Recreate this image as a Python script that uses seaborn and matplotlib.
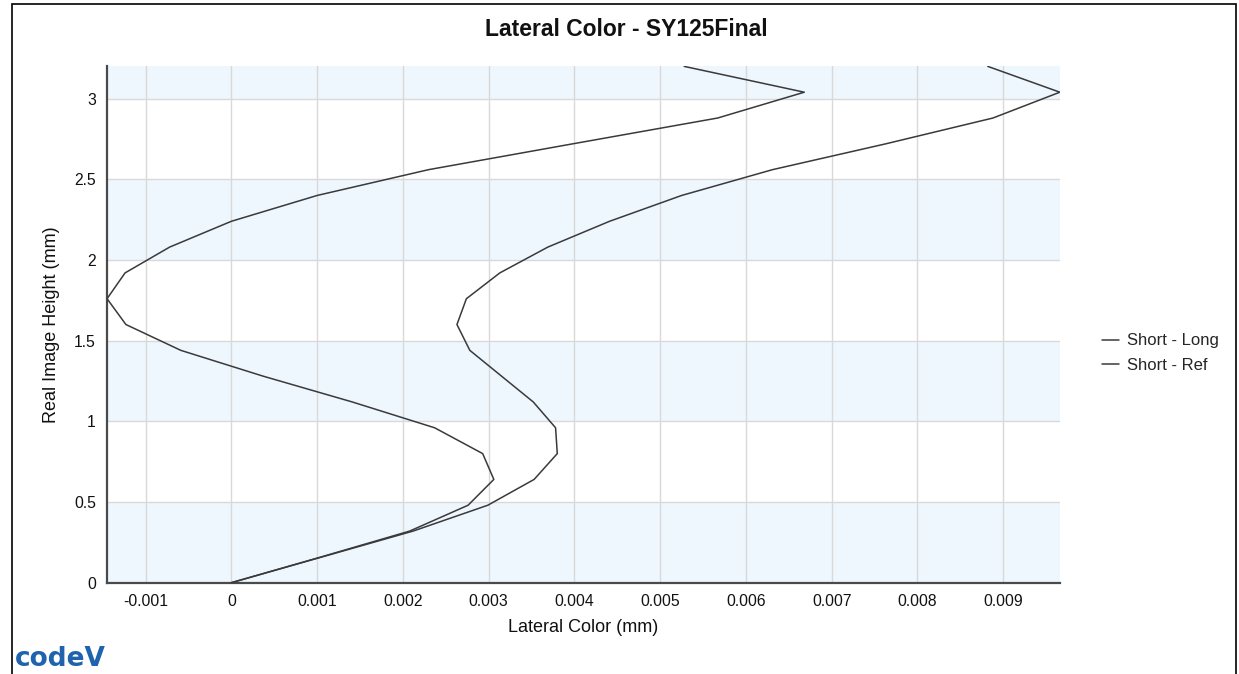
import matplotlib
matplotlib.use("Agg")
import matplotlib.pyplot as plt
from matplotlib.lines import Line2D
from matplotlib.patches import Rectangle
import pandas as pd
import seaborn as sns

# field heights (mm), sampled every 0.16 mm
heights = [0.0, 0.16, 0.32, 0.48, 0.64, 0.80, 0.96, 1.12, 1.28, 1.44, 1.60,
           1.76, 1.92, 2.08, 2.24, 2.40, 2.56, 2.72, 2.88, 3.04, 3.20]

# lateral color (mm)
short_long = [0.0, 0.00105, 0.00208, 0.00276, 0.00306, 0.00293, 0.00237, 0.00141,
              0.00037, -0.00059, -0.00123, -0.00145, -0.00124, -0.00072, 0.0,
              0.00100, 0.00230, 0.00398, 0.00567, 0.00668, 0.00528]
short_ref = [0.0, 0.00106, 0.00212, 0.00299, 0.00353, 0.00380, 0.00378, 0.00352,
             0.00315, 0.00278, 0.00263, 0.00274, 0.00313, 0.00369, 0.00441,
             0.00525, 0.00631, 0.00763, 0.00888, 0.00966, 0.00882]

series_names = ["Short - Long", "Short - Ref"]
x_ticks = [-0.001, 0, 0.001, 0.002, 0.003, 0.004, 0.005, 0.006, 0.007, 0.008, 0.009]
x_tick_labels = ["-0.001", "0", "0.001", "0.002", "0.003", "0.004", "0.005",
                 "0.006", "0.007", "0.008", "0.009"]
y_ticks = [0, 0.5, 1, 1.5, 2, 2.5, 3]
y_tick_labels = ["0", "0.5", "1", "1.5", "2", "2.5", "3"]

df = pd.concat([
    pd.DataFrame({"height": heights, "lateral": short_long, "series": series_names[0]}),
    pd.DataFrame({"height": heights, "lateral": short_ref, "series": series_names[1]}),
])

sns.set_theme(style="white")
plt.rcParams["font.family"] = ["Liberation Sans", "DejaVu Sans"]

line_color = "#3a3a3a"
band_color = "#eef6fe"
grid_color = "#d9d9d9"
axis_color = "#4a4a4a"

fig = plt.figure(figsize=(12.39, 6.74), dpi=100)
ax = fig.add_axes([0.0864, 0.1355, 0.769, 0.766])

# alternating bands between y ticks
band_edges = y_ticks + [max(heights)]
for i in range(0, len(band_edges) - 1, 2):
    ax.axhspan(band_edges[i], band_edges[i + 1], color=band_color, lw=0, zorder=0)

sns.lineplot(data=df, x="lateral", y="height", hue="series", sort=False,
             estimator=None, orient="y", palette=[line_color, line_color],
             linewidth=1.1, legend=False, ax=ax, zorder=3)

ax.set_xlim(min(short_long + short_ref), max(short_long + short_ref))
ax.set_ylim(0, max(heights))
ax.set_xticks(x_ticks)
ax.set_xticklabels(x_tick_labels)
ax.set_yticks(y_ticks)
ax.set_yticklabels(y_tick_labels)
ax.set_axisbelow(True)
ax.grid(True, color=grid_color, lw=1, zorder=1)

for side in ["top", "right"]:
    ax.spines[side].set_visible(False)
for side in ["left", "bottom"]:
    ax.spines[side].set_color(axis_color)
    ax.spines[side].set_linewidth(1.6)
ax.tick_params(axis="both", direction="out", length=4, width=1.2, color=axis_color,
               labelsize=11.3, labelcolor="#111111", pad=4)

ax.set_xlabel("Lateral Color (mm)", fontsize=13, color="#111111", labelpad=7)
ax.set_ylabel("Real Image Height (mm)", fontsize=13, color="#111111", labelpad=10)
fig.text(626 / 1239, 1 - 29 / 674, "Lateral Color - SY125Final", ha="center",
         va="center", fontsize=16.5, fontweight="bold", color="#111111")

handles = [Line2D([], [], color=line_color, lw=1.1) for _ in series_names]
fig.legend(handles, series_names, loc="center left",
           bbox_to_anchor=(1087 / 1239, 1 - 353 / 674), frameon=False,
           fontsize=12, handlelength=1.0, handletextpad=0.5, labelspacing=0.55)

# chart frame and logo
fig.add_artist(Rectangle((12 / 1239, -0.02), 1224 / 1239, 1 - 4 / 674 + 0.02,
                         transform=fig.transFigure, fill=False, ec="black", lw=1.2))
fig.text(15 / 1239, 1 - 659 / 674, "codeV", ha="left", va="center", fontsize=19,
         fontweight="heavy", color="#1f62ad", family="DejaVu Sans")

fig.savefig("out.png", dpi=100)
